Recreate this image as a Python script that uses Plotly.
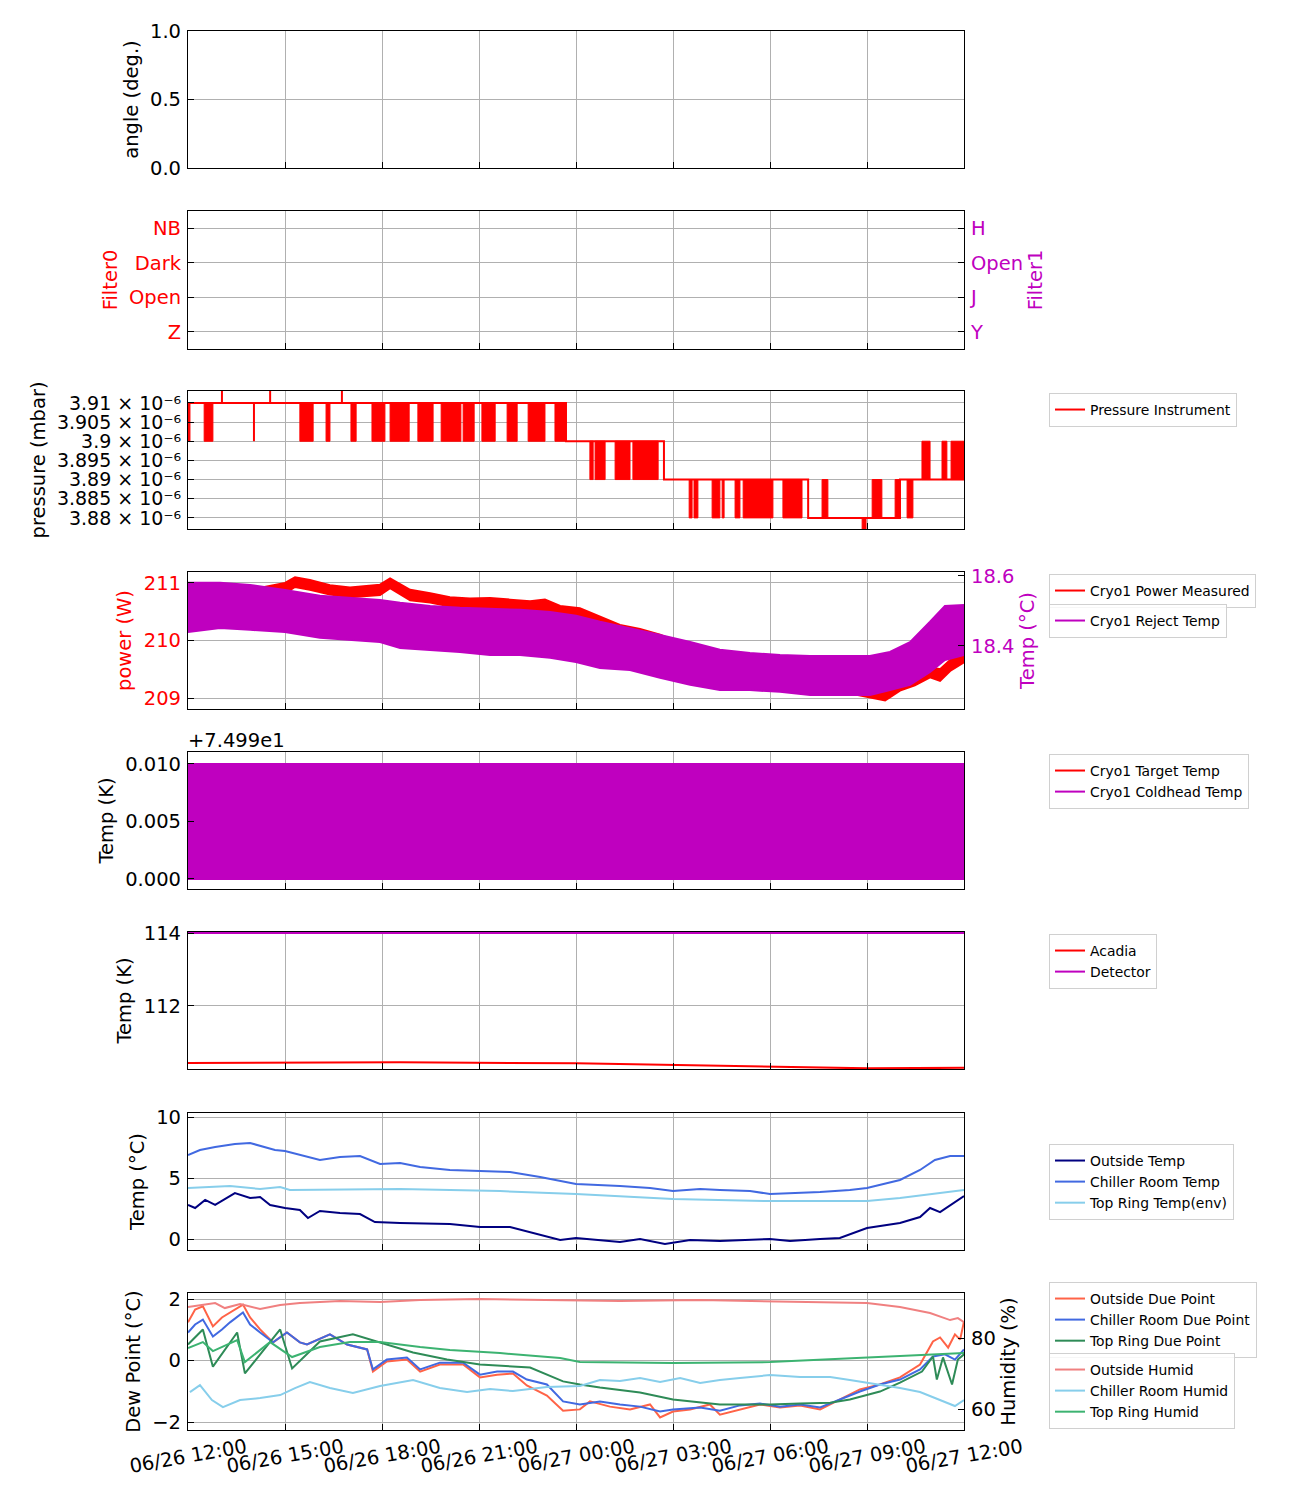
import pandas as pd
import plotly.graph_objects as go

FONT = "DejaVu Sans"
GRID = "#b0b0b0"
RED = "#ff0000"
MAG = "#bf00bf"

T0 = pd.Timestamp("2024-06-26 12:00")
T1 = T0 + pd.Timedelta(hours=24)


def hrs(h):
    return [T0 + pd.Timedelta(hours=v) for v in h]


# ---------------- data (hours after 06/26 12:00) ----------------
filter0_labels = ["Z", "Open", "Dark", "NB"]
filter1_labels = ["Y", "J", "Open", "H"]

# Pressure instrument (mbar): base level (step)
press_step_h = [0, 11.69, 14.72, 19.18, 22.02, 24.0]
press_step_v = [3.91e-6, 3.90e-6, 3.89e-6, 3.88e-6, 3.89e-6, 3.89e-6]
# dense toggling bursts between two levels
press_burst_start = [0.0, 0.50, 3.46, 4.27, 5.04, 5.69, 6.25, 7.11, 7.83, 8.51, 9.09, 9.87, 10.52, 11.35,
                     12.43, 12.59, 13.21, 13.76,
                     15.50, 15.65, 16.21, 16.52, 16.92, 17.17, 18.40, 19.61, 21.16, 21.87, 22.24,
                     20.85,
                     22.70, 23.32, 23.60]
press_burst_end = [0.06, 0.77, 3.87, 4.39, 5.20, 6.09, 6.84, 7.58, 8.44, 8.85, 9.50, 10.18, 11.04, 11.69,
                   12.53, 12.90, 13.67, 14.54,
                   15.59, 15.77, 16.45, 16.58, 17.07, 18.09, 18.99, 19.79, 21.46, 22.02, 22.42,
                   20.97,
                   22.95, 23.47, 24.0]
press_burst_lo = [3.90e-6] * 14 + [3.89e-6] * 4 + [3.88e-6] * 11 + [3.876e-6] + [3.89e-6] * 3
press_burst_hi = [3.91e-6] * 14 + [3.90e-6] * 4 + [3.89e-6] * 11 + [3.88e-6] + [3.90e-6] * 3
press_spike_h = [1.05, 2.04, 2.54, 4.76]
press_spike_lo = [3.91e-6, 3.90e-6, 3.91e-6, 3.91e-6]
press_spike_hi = [3.914e-6, 3.91e-6, 3.914e-6, 3.914e-6]

# Cryo1 power measured (W): upper / lower edge of the noisy band
power_h = [0, 1.92, 3.0, 3.31, 3.77, 4.39, 5.01, 5.94, 6.25, 6.87, 7.49, 8.10, 8.72, 9.34, 9.96, 10.58, 11.04,
           11.51, 12.12, 12.74, 13.36, 13.98, 14.60, 15.0, 15.53, 16.14, 16.76, 17.38, 18.0, 18.62, 19.24,
           19.86, 20.47, 21.09, 21.56, 22.02, 22.48, 22.95, 23.26, 23.57, 24.0]
power_hi = [210.87, 210.88, 211.00, 211.10, 211.05, 210.96, 210.92, 210.97, 211.08, 210.88, 210.82, 210.75,
            210.73, 210.74, 210.71, 210.68, 210.71, 210.60, 210.56, 210.41, 210.27, 210.20, 210.10, 210.01,
            209.92, 209.82, 209.72, 209.63, 209.54, 209.50, 209.40, 209.33, 209.26, 209.18, 209.14, 209.33,
            209.40, 209.54, 209.50, 209.66, 209.80]
power_lo = [210.71, 210.70, 210.82, 210.93, 210.88, 210.80, 210.75, 210.79, 210.91, 210.70, 210.66, 210.59,
            210.56, 210.57, 210.55, 210.52, 210.53, 210.42, 210.39, 210.23, 210.09, 210.02, 209.92, 209.83,
            209.74, 209.64, 209.54, 209.45, 209.36, 209.31, 209.22, 209.15, 209.08, 209.00, 208.96, 209.13,
            209.22, 209.36, 209.30, 209.47, 209.62]

# Cryo1 reject temp (deg C): upper and lower envelope of the noisy band
reject_h = [0, 0.99, 1.92, 3.0, 4.08, 5.01, 5.94, 6.56, 7.49, 8.41, 9.34, 10.27, 11.20, 12.0, 12.74, 13.67,
            14.60, 15.53, 16.45, 17.38, 18.31, 19.24, 20.16, 21.09, 21.71, 22.33, 22.95, 23.41, 24.0]
reject_hi = [18.580, 18.580, 18.574, 18.560, 18.543, 18.537, 18.531, 18.523, 18.514, 18.509, 18.506, 18.503,
             18.497, 18.486, 18.469, 18.451, 18.431, 18.411, 18.389, 18.380, 18.374, 18.371, 18.371, 18.371,
             18.383, 18.411, 18.469, 18.514, 18.517]
reject_lo = [18.440, 18.451, 18.446, 18.440, 18.423, 18.417, 18.411, 18.394, 18.389, 18.383, 18.374, 18.374,
             18.366, 18.354, 18.337, 18.331, 18.309, 18.289, 18.274, 18.274, 18.269, 18.260, 18.260, 18.260,
             18.274, 18.289, 18.326, 18.360, 18.374]

# Cryo1 target / coldhead temp (K)
cold_h = [0, 24.0]
target_v = [75.0, 75.0]
coldhead_lo = [74.99, 74.99]
coldhead_hi = [75.0, 75.0]

# Acadia / detector temp (K)
acadia_h = [0, 6.56, 12.0, 15.0, 18.0, 21.0, 24.0]
acadia_v = [110.438, 110.452, 110.425, 110.384, 110.329, 110.288, 110.301]
detector_h = [0, 24.0]
detector_v = [114.0, 114.0]

# Environment temps (deg C)
out_t_h = [0, 0.22, 0.53, 0.84, 1.45, 1.92, 2.23, 2.54, 3.0, 3.46, 3.71, 4.08, 4.70, 5.32, 5.78, 6.56, 8.10,
           9.03, 9.96, 10.89, 11.51, 12.0, 12.74, 13.36, 13.98, 14.75, 15.53, 16.45, 18.0, 18.62, 19.55,
           20.16, 21.0, 22.02, 22.64, 22.95, 23.26, 23.57, 24.0]
out_t_v = [2.79, 2.54, 3.20, 2.79, 3.77, 3.36, 3.44, 2.79, 2.54, 2.38, 1.72, 2.30, 2.13, 2.05, 1.39, 1.31, 1.23,
           0.98, 0.98, 0.33, -0.08, 0.08, -0.08, -0.25, 0.0, -0.41, -0.08, -0.16, 0.0, -0.16, 0.0, 0.08, 0.90,
           1.31, 1.80, 2.54, 2.21, 2.79, 3.52]
chill_t_h = [0, 0.37, 0.84, 1.45, 1.92, 2.29, 2.69, 3.0, 3.46, 4.08, 4.70, 5.32, 5.94, 6.56, 7.18, 8.10, 9.03,
             9.96, 10.89, 12.0, 13.36, 14.29, 15.0, 15.84, 16.45, 17.38, 18.0, 18.93, 19.55, 20.47, 21.0, 22.02,
             22.64, 23.10, 23.57, 24.0]
chill_t_v = [6.89, 7.30, 7.54, 7.79, 7.87, 7.62, 7.30, 7.21, 6.89, 6.48, 6.72, 6.80, 6.15, 6.23, 5.90, 5.66, 5.57,
             5.49, 5.08, 4.51, 4.34, 4.18, 3.93, 4.10, 4.02, 3.93, 3.69, 3.77, 3.85, 4.02, 4.18, 4.84, 5.66, 6.48,
             6.80, 6.80]
ring_t_h = [0, 1.30, 2.23, 2.85, 3.15, 6.56, 9.65, 12.0, 15.0, 18.0, 21.0, 22.02, 24.0]
ring_t_v = [4.18, 4.34, 4.10, 4.26, 4.02, 4.10, 3.93, 3.69, 3.28, 3.11, 3.11, 3.36, 4.02]

# Dew points (deg C)
out_dp_h = [0, 0.22, 0.46, 0.77, 1.05, 1.30, 1.70, 1.92, 2.23, 2.63, 3.06, 3.46, 3.68, 4.39, 4.92, 5.54, 5.72,
            6.15, 6.77, 7.18, 7.79, 8.51, 9.03, 9.56, 10.05, 10.48, 11.10, 11.60, 12.12, 12.43, 13.05, 13.67,
            14.29, 14.60, 15.0, 15.53, 16.14, 16.45, 17.07, 17.69, 18.31, 18.93, 19.55, 20.16, 20.78, 21.40,
            22.02, 22.64, 23.04, 23.26, 23.51, 23.72, 23.88, 24.0]
out_dp_v = [1.24, 1.66, 1.76, 1.11, 1.40, 1.56, 1.82, 1.40, 1.01, 0.59, 0.91, 0.59, 0.52, 0.85, 0.52, 0.36, -0.36,
            -0.03, 0.03, -0.36, -0.13, -0.13, -0.55, -0.46, -0.42, -0.81, -1.14, -1.63, -1.59, -1.33, -1.50,
            -1.59, -1.43, -1.85, -1.66, -1.59, -1.43, -1.76, -1.59, -1.43, -1.53, -1.46, -1.59, -1.27, -0.94,
            -0.78, -0.55, -0.13, 0.62, 0.75, 0.42, 0.85, 0.68, 1.27]
chill_dp_h = [0, 0.22, 0.46, 0.77, 1.05, 1.30, 1.70, 1.92, 2.23, 2.63, 3.06, 3.46, 3.68, 4.39, 4.92, 5.54, 5.72,
              6.15, 6.77, 7.18, 7.79, 8.51, 9.03, 9.56, 10.05, 10.48, 11.10, 11.60, 12.12, 12.74, 13.36, 13.98,
              14.60, 15.0, 15.84, 16.45, 17.07, 17.69, 18.31, 18.93, 19.55, 20.16, 20.78, 21.40, 22.02, 22.64,
              23.04, 23.41, 23.72, 24.0]
chill_dp_v = [0.91, 1.17, 1.33, 0.78, 1.01, 1.24, 1.56, 1.17, 0.91, 0.59, 0.91, 0.59, 0.52, 0.85, 0.52, 0.36,
              -0.29, 0.03, 0.10, -0.29, -0.07, -0.07, -0.46, -0.36, -0.36, -0.62, -0.78, -1.33, -1.43, -1.33,
              -1.43, -1.50, -1.66, -1.59, -1.53, -1.63, -1.46, -1.40, -1.50, -1.43, -1.53, -1.27, -1.01, -0.78,
              -0.62, -0.29, 0.13, 0.20, 0.03, 0.36]
ring_dp_h = [0, 0.46, 0.77, 1.52, 1.76, 2.85, 3.22, 4.08, 5.10, 5.94, 6.96, 8.01, 9.03, 10.58, 11.60, 12.12,
             12.74, 13.98, 15.0, 16.45, 18.0, 18.93, 19.86, 20.47, 21.40, 22.02, 22.70, 23.04, 23.16, 23.35,
             23.63, 23.81, 24.0]
ring_dp_v = [0.52, 1.01, -0.20, 0.91, -0.42, 1.01, -0.26, 0.62, 0.85, 0.59, 0.26, 0.03, -0.13, -0.23, -0.68,
             -0.78, -0.88, -1.04, -1.27, -1.43, -1.43, -1.40, -1.37, -1.27, -1.01, -0.72, -0.36, 0.13, -0.62,
             0.10, -0.78, 0.03, 0.20]

# Humidities (%)
out_h_h = [0, 0.37, 0.84, 1.14, 1.61, 2.23, 2.85, 3.46, 4.70, 5.94, 7.18, 9.03, 11.51, 13.36, 15.84, 18.0,
           19.86, 21.0, 22.02, 22.95, 23.57, 23.81, 24.0]
out_h_v = [88.73, 89.30, 89.86, 88.45, 89.58, 88.17, 89.30, 89.86, 90.42, 90.14, 90.70, 90.99, 90.70, 90.42,
           90.70, 90.42, 90.14, 89.86, 88.73, 87.04, 85.07, 85.63, 84.51]
chill_h_h = [0.06, 0.37, 0.74, 1.08, 1.61, 2.23, 2.85, 3.31, 3.77, 4.39, 5.10, 5.94, 6.96, 7.79, 8.63, 9.34,
             10.05, 11.10, 12.12, 12.74, 13.36, 13.98, 14.60, 15.22, 15.84, 16.45, 17.07, 18.0, 18.93, 19.86,
             20.47, 21.09, 22.02, 22.64, 23.26, 23.72, 24.0]
chill_h_v = [64.79, 66.76, 62.54, 60.56, 62.54, 63.10, 63.94, 65.92, 67.61, 65.92, 64.51, 66.48, 68.17, 65.92,
             64.79, 65.63, 65.07, 66.20, 66.48, 68.17, 67.89, 68.73, 67.61, 68.73, 67.32, 68.17, 68.73, 69.58,
             69.01, 69.01, 68.17, 67.32, 65.92, 64.79, 62.54, 60.85, 62.54]
ring_h_h = [0, 0.46, 0.77, 1.52, 1.76, 2.54, 3.22, 4.08, 5.01, 5.94, 7.18, 8.10, 9.65, 11.51, 12.12, 15.0, 18.0,
            20.47, 22.02, 24.0]
ring_h_v = [77.18, 78.87, 76.34, 79.44, 73.24, 78.87, 74.65, 77.46, 78.87, 78.87, 77.46, 76.62, 75.77, 74.37,
            73.24, 72.96, 73.24, 74.37, 74.93, 75.77]

press_ticks = [3.88e-6, 3.885e-6, 3.89e-6, 3.895e-6, 3.90e-6, 3.905e-6, 3.91e-6]
press_text = ["3.88 × 10⁻⁶", "3.885 × 10⁻⁶", "3.89 × 10⁻⁶", "3.895 × 10⁻⁶", "3.9 × 10⁻⁶",
              "3.905 × 10⁻⁶", "3.91 × 10⁻⁶"]

# ---------------- layout helpers ----------------
# page pixel positions of the panels (the page body has an 8px margin)
OFF = 8
PANELS = [(31, 168), (211, 349), (391, 529), (572, 709), (752, 889), (932, 1069), (1113, 1250), (1293, 1430)]
XD = [(188 - OFF) / 1300, (964 - OFF) / 1300]
FS = 19.5


def px_x(x):
    return (x - OFF) / 1300


def px_y(y):
    return 1 - (y - OFF) / 1500


def dom(i):
    t, b = PANELS[i]
    return [px_y(b), px_y(t)]


fig = go.Figure()

layout = dict(width=1300, height=1500, margin=dict(l=0, r=0, t=0, b=0), template="none",
              plot_bgcolor="white", paper_bgcolor="white",
              font=dict(family=FONT, size=FS, color="black"), showlegend=True)

for i in range(8):
    k = "" if i == 0 else str(i + 1)
    ax = dict(domain=XD, anchor="y" + k, type="date", range=[T0, T1], tick0=T0, dtick=3 * 3600 * 1000,
              tickformat="%m/%d %H:%M", showgrid=True, gridcolor=GRID, gridwidth=1, ticks="inside",
              ticklen=6, tickcolor="black", showline=True, linecolor="black", linewidth=1.2, mirror=True,
              showticklabels=(i == 7), tickangle=-10, tickfont=dict(family=FONT, size=FS), zeroline=False)
    if i == 7:
        ax["ticklabelshift"] = 58
        ax["ticklabelstandoff"] = -2
    if i > 0:
        ax["matches"] = "x"
    layout["xaxis" + k] = ax


def yax(i, rng, tickvals, ticktext=None, title="", color="black", fs=FS):
    d = dict(domain=dom(i), anchor="x" + ("" if i == 0 else str(i + 1)), range=rng, tickvals=tickvals,
             showgrid=True, gridcolor=GRID, gridwidth=1, ticks="inside", ticklen=6, tickcolor="black",
             showline=True, linecolor="black", linewidth=1.2, mirror=True, zeroline=False,
             tickfont=dict(family=FONT, size=fs, color=color), ticklabelstandoff=2,
             title=dict(text=title, font=dict(family=FONT, size=FS, color=color), standoff=6))
    if ticktext is not None:
        d["ticktext"] = ticktext
    return d


def yax2(i, rng, tickvals, ticktext=None, title="", color="black"):
    k = "" if i == 0 else str(i + 1)
    d = dict(overlaying="y" + k, anchor="x" + k, side="right", range=rng, tickvals=tickvals,
             showgrid=False, ticks="inside", ticklen=6, tickcolor="black", showline=False, zeroline=False,
             tickfont=dict(family=FONT, size=FS, color=color), ticklabelstandoff=6,
             title=dict(text=title, font=dict(family=FONT, size=FS, color=color), standoff=6))
    if ticktext is not None:
        d["ticktext"] = ticktext
    return d


layout["yaxis"] = yax(0, [0, 1], [0, 0.5, 1.0], ["0.0", "0.5", "1.0"], "angle (deg.)")
layout["yaxis2"] = yax(1, [-0.5, 3.5], [0, 1, 2, 3], filter0_labels, "Filter0", RED)
layout["yaxis3"] = yax(2, [3.8771e-6, 3.9131e-6], press_ticks, press_text, "pressure (mbar)", fs=19)
layout["yaxis4"] = yax(3, [208.81, 211.19], [209, 210, 211], None, "power (W)", RED)
layout["yaxis5"] = yax(4, [74.98913, 75.00104], [74.99, 74.995, 75.0], ["0.000", "0.005", "0.010"], "Temp (K)")
layout["yaxis6"] = yax(5, [110.27, 114.03], [112, 114], None, "Temp (K)")
layout["yaxis7"] = yax(6, [-0.9, 10.33], [0, 5, 10], None, "Temp (°C)")
layout["yaxis8"] = yax(7, [-2.26, 2.195], [-2, 0, 2], None, "Dew Point (°C)")
layout["yaxis9"] = yax2(1, [-0.5, 3.5], [0, 1, 2, 3], filter1_labels, "Filter1", MAG)
layout["yaxis10"] = yax2(3, [18.22, 18.611], [18.4, 18.6], None, "Temp (°C)", MAG)
layout["yaxis11"] = yax2(7, [54.1, 92.7], [60, 80], None, "Humidity (%)")


def leg(top_px):
    return dict(x=px_x(1049), y=px_y(top_px - 5), xanchor="left", yanchor="top",
                bgcolor="rgba(255,255,255,0.8)", bordercolor="#d0d0d0", borderwidth=1,
                font=dict(family=FONT, size=13.9, color="black"), itemwidth=30, tracegroupgap=0)


layout["legend"] = leg(398)
layout["legend2"] = leg(579)
layout["legend3"] = leg(609)
layout["legend4"] = leg(759)
layout["legend5"] = leg(939)
layout["legend6"] = leg(1149)
layout["legend7"] = leg(1287)
layout["legend8"] = leg(1358)

LW = 2

# ---- panel 3: pressure ----
bx, by = [], []
for s, e, lo, hi in zip(press_burst_start, press_burst_end, press_burst_lo, press_burst_hi):
    ts, te = hrs([s, e])
    bx += [ts, ts, te, te, ts, None]
    by += [lo, hi, hi, lo, lo, None]
fig.add_trace(go.Scatter(x=bx, y=by, mode="lines", fill="toself", fillcolor=RED,
                         line=dict(color=RED, width=1), xaxis="x3", yaxis="y3", showlegend=False))
sx, sy = [], []
for h, lo, hi in zip(press_spike_h, press_spike_lo, press_spike_hi):
    t = hrs([h])[0]
    sx += [t, t, None]
    sy += [lo, hi, None]
fig.add_trace(go.Scatter(x=sx, y=sy, mode="lines", line=dict(color=RED, width=LW),
                         xaxis="x3", yaxis="y3", showlegend=False))
fig.add_trace(go.Scatter(x=hrs(press_step_h), y=press_step_v, mode="lines", line_shape="hv",
                         line=dict(color=RED, width=LW), name="Pressure Instrument",
                         xaxis="x3", yaxis="y3", legend="legend"))

# ---- panel 4: power / reject temp ----
fig.add_trace(go.Scatter(x=hrs(power_h), y=power_lo, mode="lines", line=dict(color=RED, width=LW),
                         name="Cryo1 Power Measured", xaxis="x4", yaxis="y4", legend="legend2"))
fig.add_trace(go.Scatter(x=hrs(power_h), y=power_hi, mode="lines", line=dict(color=RED, width=LW),
                         fill="tonexty", fillcolor=RED, showlegend=False, xaxis="x4", yaxis="y4"))
fig.add_trace(go.Scatter(x=hrs(reject_h), y=reject_lo, mode="lines", line=dict(color=MAG, width=LW),
                         name="Cryo1 Reject Temp", xaxis="x4", yaxis="y10", legend="legend3"))
fig.add_trace(go.Scatter(x=hrs(reject_h), y=reject_hi, mode="lines", line=dict(color=MAG, width=LW),
                         fill="tonexty", fillcolor=MAG, showlegend=False, xaxis="x4", yaxis="y10"))

# ---- panel 5: coldhead ----
fig.add_trace(go.Scatter(x=hrs(cold_h), y=target_v, mode="lines", line=dict(color=RED, width=LW),
                         name="Cryo1 Target Temp", xaxis="x5", yaxis="y5", legend="legend4"))
fig.add_trace(go.Scatter(x=hrs(cold_h), y=coldhead_lo, mode="lines", line=dict(color=MAG, width=LW),
                         name="Cryo1 Coldhead Temp", xaxis="x5", yaxis="y5", legend="legend4"))
fig.add_trace(go.Scatter(x=hrs(cold_h), y=coldhead_hi, mode="lines", line=dict(color=MAG, width=LW),
                         fill="tonexty", fillcolor=MAG, showlegend=False, xaxis="x5", yaxis="y5"))

# ---- panel 6: acadia / detector ----
fig.add_trace(go.Scatter(x=hrs(acadia_h), y=acadia_v, mode="lines", line=dict(color=RED, width=LW),
                         name="Acadia", xaxis="x6", yaxis="y6", legend="legend5"))
fig.add_trace(go.Scatter(x=hrs(detector_h), y=detector_v, mode="lines", line=dict(color=MAG, width=LW),
                         name="Detector", xaxis="x6", yaxis="y6", legend="legend5"))

# ---- panel 7: environment temps ----
for h, v, c, n in [(out_t_h, out_t_v, "#000080", "Outside Temp"),
                   (chill_t_h, chill_t_v, "#4169e1", "Chiller Room Temp"),
                   (ring_t_h, ring_t_v, "#87ceeb", "Top Ring Temp(env)")]:
    fig.add_trace(go.Scatter(x=hrs(h), y=v, mode="lines", line=dict(color=c, width=LW), name=n,
                             xaxis="x7", yaxis="y7", legend="legend6"))

# ---- panel 8: dew point / humidity ----
for h, v, c, n in [(out_dp_h, out_dp_v, "#ff6347", "Outside Due Point"),
                   (chill_dp_h, chill_dp_v, "#4169e1", "Chiller Room Due Point"),
                   (ring_dp_h, ring_dp_v, "#2e8b57", "Top Ring Due Point")]:
    fig.add_trace(go.Scatter(x=hrs(h), y=v, mode="lines", line=dict(color=c, width=LW), name=n,
                             xaxis="x8", yaxis="y8", legend="legend7"))
for h, v, c, n in [(out_h_h, out_h_v, "#f08080", "Outside Humid"),
                   (chill_h_h, chill_h_v, "#87ceeb", "Chiller Room Humid"),
                   (ring_h_h, ring_h_v, "#3cb371", "Top Ring Humid")]:
    fig.add_trace(go.Scatter(x=hrs(h), y=v, mode="lines", line=dict(color=c, width=LW), name=n,
                             xaxis="x8", yaxis="y11", legend="legend8"))

# empty placeholders so the angle and filter panels are drawn
fig.add_trace(go.Scatter(x=[], y=[], xaxis="x", yaxis="y", showlegend=False))
fig.add_trace(go.Scatter(x=[], y=[], xaxis="x2", yaxis="y2", showlegend=False))
fig.add_trace(go.Scatter(x=[], y=[], xaxis="x2", yaxis="y9", showlegend=False))

layout["annotations"] = [dict(text="+7.499e1", x=px_x(186), y=px_y(740), xref="paper", yref="paper",
                              xanchor="left", yanchor="middle", showarrow=False,
                              font=dict(family=FONT, size=FS, color="black"))]

fig.update_layout(**layout)
fig.write_html("out.html")
